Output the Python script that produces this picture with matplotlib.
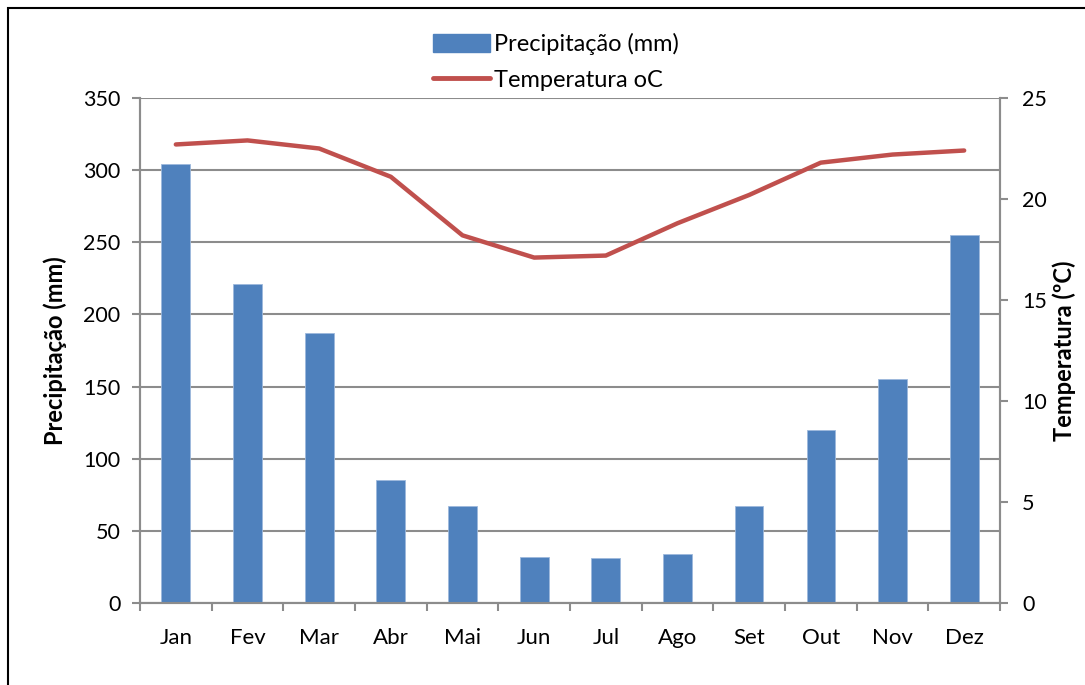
import matplotlib
matplotlib.use("Agg")
import matplotlib.pyplot as plt
import numpy as np
from matplotlib.lines import Line2D
from matplotlib.patches import Patch, Rectangle

months = ["Jan", "Fev", "Mar", "Abr", "Mai", "Jun", "Jul", "Ago", "Set", "Out", "Nov", "Dez"]
precip_mm = [304, 221, 187, 85, 67, 32, 31, 34, 67, 120, 155, 255]
temp_c = [22.7, 22.9, 22.5, 21.1, 18.2, 17.1, 17.2, 18.8, 20.2, 21.8, 22.2, 22.4]
precip_ticks = [0, 50, 100, 150, 200, 250, 300, 350]
temp_ticks = [0, 5, 10, 15, 20, 25]

plt.rcParams["font.family"] = ["Lato", "DejaVu Sans"]

BAR = "#4F81BD"
LINE = "#C0504D"
GRID = "#8C8C8C"

fig = plt.figure(figsize=(10.85, 6.85), dpi=100)
ax = fig.add_axes([140 / 1085, 1 - 603 / 685, 860 / 1085, 505 / 685])
ax2 = ax.twinx()

x = np.arange(len(months))
ax.bar(x, precip_mm, width=0.4, color=BAR, edgecolor="#9DB9DC", linewidth=0.6, zorder=3)
ax.set_xlim(-0.5, len(months) - 0.5)
ax.set_ylim(0, 350)
ax.set_yticks(precip_ticks)
ax.yaxis.grid(True, color=GRID, linewidth=1.5, zorder=0)
ax.set_axisbelow(True)

ax2.plot(x, temp_c, color=LINE, linewidth=3.2, solid_capstyle="round", zorder=4)
ax2.set_ylim(0, 25)
ax2.set_yticks(temp_ticks)

ax.set_xticks(x)
ax.set_xticklabels(months)
ax.set_xticks(np.arange(-0.5, len(months)), minor=True)
ax.tick_params(axis="x", which="major", length=0, pad=18, labelsize=16)
ax.tick_params(axis="x", which="minor", length=6, width=1.5, color=GRID)
ax.tick_params(axis="y", length=6, width=1.5, color=GRID, labelsize=15.5, pad=8)
ax2.tick_params(axis="y", length=6, width=1.5, color=GRID, labelsize=15.5, pad=10)

for a in (ax, ax2):
    a.spines["top"].set_visible(False)
    for side in ("left", "right", "bottom"):
        a.spines[side].set_color(GRID)
        a.spines[side].set_linewidth(1.5)

ax.set_ylabel("Precipitação (mm)", fontsize=17, fontweight="bold", labelpad=12)
ax2.set_ylabel("Temperatura (ºC)", fontsize=17, fontweight="bold", labelpad=4)

handles = [Patch(facecolor=BAR, edgecolor=BAR),
           Line2D([0], [0], color=LINE, linewidth=3.5, solid_capstyle="round")]
fig.legend(handles, ["Precipitação (mm)", "Temperatura oC"], loc="center",
           bbox_to_anchor=(556 / 1085, 1 - 62 / 685), frameon=False, fontsize=17,
           handlelength=2.4, handleheight=0.8, handletextpad=0.15, labelspacing=0.6)

fig.patches.append(Rectangle((8 / 1085, -0.05), 1.1, 1 - 8 / 685 + 0.05,
                             transform=fig.transFigure, fill=False,
                             edgecolor="black", linewidth=1.5))

fig.savefig("out.png", dpi=100)
